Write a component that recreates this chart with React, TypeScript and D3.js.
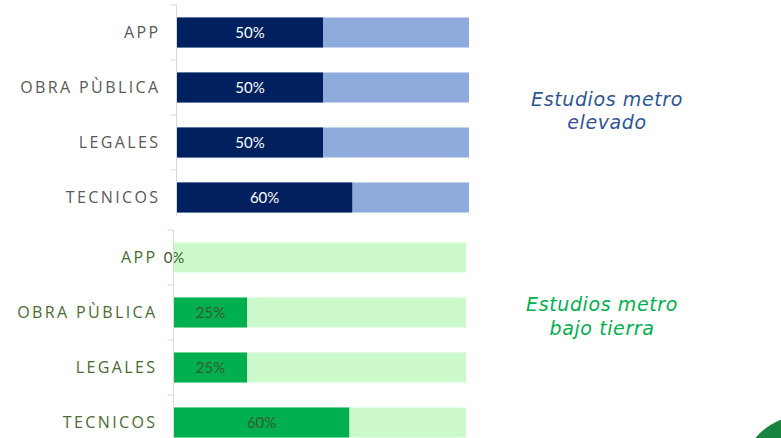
import React from "react";
import * as d3 from "d3";

const categories = ["APP", "OBRA PÙBLICA", "LEGALES", "TECNICOS"];
const elevadoValues = [50, 50, 50, 60];
const bajoTierraValues = [0, 25, 25, 60];
const totalValue = 100;
const titleElevado = ["Estudios metro", "elevado"];
const titleBajo = ["Estudios metro", "bajo tierra"];

const W = 781;
const H = 438;

type PanelProps = {
  values: number[];
  axisX: number;
  yStart: number;
  dark: string;
  light: string;
  labelColor: string;
  valueColor: string;
  labelWeight: number;
  axisEnd: number;
};

function Panel({ values, axisX, yStart, dark, light, labelColor, valueColor, labelWeight, axisEnd }: PanelProps) {
  const step = 55;
  const y = d3
    .scaleBand<string>()
    .domain(categories)
    .range([yStart, yStart + step * (4 - 0.4545 + 0.436)])
    .paddingInner(0.4545)
    .paddingOuter(0.218);
  const x = d3.scaleLinear().domain([0, totalValue]).range([axisX + 0.5, axisX + 0.5 + 292]);
  const half = (y.step() - y.bandwidth()) / 2;
  return (
    <g>
      {categories.map((c, i) => (
        <g key={c}>
          <rect x={x(0)} y={y(c)} width={x(totalValue) - x(0)} height={y.bandwidth()} fill={light} />
          <rect x={x(0)} y={y(c)} width={x(values[i]) - x(0)} height={y.bandwidth()} fill={dark} />
          <text
            x={(x(0) + x(values[i])) / 2}
            y={(y(c) as number) + y.bandwidth() / 2}
            dy="0.36em"
            textAnchor="middle"
            fontFamily="Lato, 'Open Sans', sans-serif"
            fontSize={15}
            fill={valueColor}
          >
            {values[i]}%
          </text>
          <text
            x={axisX - 16}
            y={(y(c) as number) + y.bandwidth() / 2}
            dy="0.36em"
            textAnchor="end"
            fontFamily="'Open Sans', sans-serif"
            fontSize={16}
            fontWeight={labelWeight}
            letterSpacing={2.4}
            fill={labelColor}
          >
            {c}
          </text>
          <line
            x1={axisX - 6}
            x2={axisX}
            y1={(y(c) as number) - half}
            y2={(y(c) as number) - half}
            stroke="#d9d9d9"
            strokeWidth={1}
          />
        </g>
      ))}
      <line
        x1={axisX}
        x2={axisX}
        y1={(y(categories[0]) as number) - half}
        y2={axisEnd}
        stroke="#d9d9d9"
        strokeWidth={1}
      />
    </g>
  );
}

export default function App() {
  return (
    <svg width={W} height={H} style={{ position: "absolute", left: 0, top: 0, background: "#fff" }}>
      <rect width={W} height={H} fill="#fff" />
      <Panel
        values={elevadoValues}
        axisX={176.5}
        yStart={5.5}
        dark="#002060"
        light="#8faadc"
        labelColor="#595959"
        valueColor="#ffffff"
        labelWeight={400}
        axisEnd={216}
      />
      <Panel
        values={bajoTierraValues}
        axisX={173.5}
        yStart={230.5}
        dark="#00b050"
        light="#ccfacc"
        labelColor="#4a6b32"
        valueColor="#3b5a2c"
        labelWeight={500}
        axisEnd={438}
      />
      <g fontFamily="'DejaVu Sans', sans-serif" fontStyle="italic" fontSize={19} letterSpacing={0.6} textAnchor="middle">
        <text x={607} y={106} fill="#2f5597">{titleElevado[0]}</text>
        <text x={607} y={129} fill="#2f5597">{titleElevado[1]}</text>
        <text x={602} y={311} fill="#00b050">{titleBajo[0]}</text>
        <text x={602} y={335} fill="#00b050">{titleBajo[1]}</text>
      </g>
      <circle cx={805} cy={480} r={65} fill="#17853f" />
    </svg>
  );
}
